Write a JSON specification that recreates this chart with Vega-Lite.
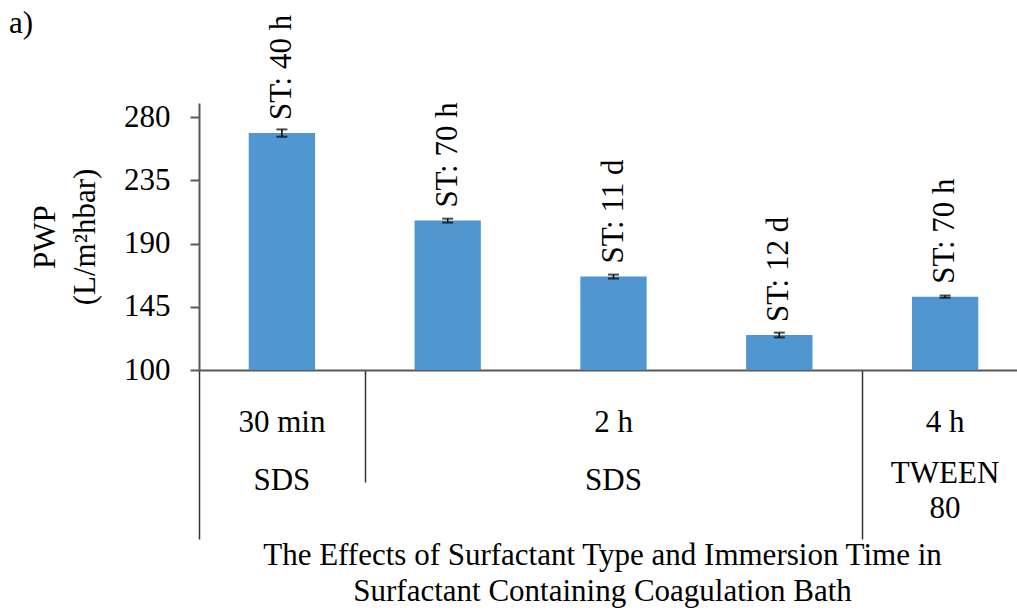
{
  "$schema": "https://vega.github.io/schema/vega-lite/v6.json",
  "autosize": {"type": "none"},
  "padding": {"left": 199, "top": 103, "right": 0, "bottom": 244},
  "width": 818,
  "height": 267,
  "title": {
    "text": "a)",
    "anchor": "start",
    "frame": "group",
    "font": "Liberation Serif",
    "fontSize": 31,
    "fontWeight": "normal",
    "color": "black",
    "dx": -190,
    "dy": 29
  },
  "config": {
    "view": {"stroke": null},
    "font": "Liberation Serif"
  },
  "data": {
    "values": [
      {"run": 1, "time": "30 min", "surfactant": "SDS", "pwp": 268.6, "err": 2.6, "st": "ST: 40 h"},
      {"run": 2, "time": "2 h", "surfactant": "SDS", "pwp": 206.3, "err": 1.4, "st": "ST: 70 h"},
      {"run": 3, "time": "2 h", "surfactant": "SDS", "pwp": 166.5, "err": 1.4, "st": "ST: 11 d"},
      {"run": 4, "time": "2 h", "surfactant": "SDS", "pwp": 124.9, "err": 1.7, "st": "ST: 12 d"},
      {"run": 5, "time": "4 h", "surfactant": "TWEEN 80", "pwp": 152.2, "err": 0.8, "st": "ST: 70 h"}
    ]
  },
  "resolve": {"axis": {"x": "independent"}},
  "layer": [
    {
      "mark": {"type": "bar", "color": "#5096d0", "width": {"band": 0.4}},
      "encoding": {
        "x": {
          "field": "run",
          "type": "ordinal",
          "scale": {"range": [0, 829], "paddingInner": 0, "paddingOuter": 0},
          "axis": {
            "orient": "bottom",
            "labels": false,
            "title": null,
            "grid": false,
            "domain": true,
            "domainColor": "#595959",
            "domainWidth": 2,
            "ticks": true,
            "tickBand": "extent",
            "tickColor": "#333333",
            "tickWidth": 1.5,
            "tickSize": {"condition": {"test": "datum.value == 1", "value": 112}, "value": 169},
            "tickOpacity": {"condition": {"test": "datum.value == 2 || datum.value == 3", "value": 0}, "value": 1}
          }
        },
        "y": {
          "field": "pwp",
          "type": "quantitative",
          "title": ["PWP", "(L/m²hbar)"],
          "scale": {"domain": [100, 290], "nice": false, "zero": false},
          "axis": {
            "values": [100, 145, 190, 235, 280],
            "grid": false,
            "titleFont": "Liberation Serif",
            "titleFontSize": 31,
            "titleFontWeight": "normal",
            "titleColor": "black",
            "titleLineHeight": 40,
            "titlePadding": 22,
            "labelFont": "Liberation Serif",
            "labelFontSize": 31,
            "labelColor": "black",
            "labelPadding": 20,
            "tickSize": 9,
            "tickColor": "#595959",
            "tickWidth": 2,
            "domainColor": "#595959",
            "domainWidth": 2
          }
        },
        "y2": {"datum": 100}
      }
    },
    {
      "mark": {
        "type": "errorbar",
        "ticks": {"size": 11, "thickness": 2, "color": "black"},
        "rule": {"color": "black", "strokeWidth": 1.5}
      },
      "encoding": {
        "x": {
          "field": "run",
          "type": "ordinal",
          "axis": {
            "orient": "bottom",
            "domain": false,
            "ticks": false,
            "grid": false,
            "labelAngle": 0,
            "labelPadding": {"condition": {"test": "datum.value == 5", "value": 112}, "value": 119},
            "labelBaseline": "alphabetic",
            "labelFont": "Liberation Serif",
            "labelFontSize": 31,
            "labelColor": "black",
            "labelLineHeight": 35,
            "labelOverlap": false,
            "labelBound": false,
            "labelFlush": false,
            "labelExpr": "datum.value == 1 ? 'SDS' : datum.value == 3 ? 'SDS' : datum.value == 5 ? ['TWEEN', '80'] : ''",
            "title": ["The Effects of Surfactant Type and Immersion Time in", "Surfactant Containing Coagulation Bath"],
            "titleFont": "Liberation Serif",
            "titleFontSize": 31,
            "titleFontWeight": "normal",
            "titleColor": "black",
            "titleLineHeight": 36,
            "titlePadding": 17,
            "titleX": 403
          }
        },
        "y": {"field": "pwp", "type": "quantitative", "title": ["PWP", "(L/m²hbar)"]},
        "yError": {"field": "err"}
      }
    },
    {
      "mark": {
        "type": "text",
        "angle": 270,
        "align": "left",
        "baseline": "middle",
        "dx": 13,
        "font": "Liberation Serif",
        "fontSize": 31,
        "color": "black"
      },
      "encoding": {
        "x": {
          "field": "run",
          "type": "ordinal",
          "axis": {
            "orient": "bottom",
            "domain": false,
            "ticks": false,
            "grid": false,
            "title": null,
            "labelAngle": 0,
            "labelPadding": 61,
            "labelBaseline": "alphabetic",
            "labelFont": "Liberation Serif",
            "labelFontSize": 31,
            "labelColor": "black",
            "labelOverlap": false,
            "labelBound": false,
            "labelFlush": false,
            "labelExpr": "datum.value == 1 ? '30 min' : datum.value == 3 ? '2 h' : datum.value == 5 ? '4 h' : ''"
          }
        },
        "y": {"field": "pwp", "type": "quantitative", "title": ["PWP", "(L/m²hbar)"]},
        "text": {"field": "st"}
      }
    }
  ]
}
